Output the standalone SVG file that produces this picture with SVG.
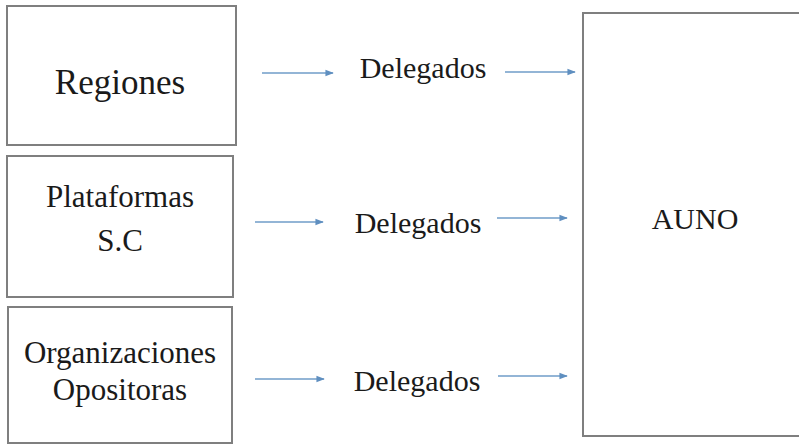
<svg xmlns="http://www.w3.org/2000/svg" width="799" height="446" viewBox="0 0 799 446">
<defs>
<style>
.box{fill:#fff;stroke:#7f7f7f;stroke-width:2}
.t{font-family:'Liberation Serif',serif;fill:#1a1a1a;text-anchor:middle}
.a{stroke:#6f9cc8;stroke-width:1.4;fill:none;marker-end:url(#ah)}
</style>
<marker id="ah" viewBox="0 0 10 10" refX="9" refY="5" markerWidth="6" markerHeight="6" markerUnits="strokeWidth" orient="auto">
<path d="M0,1 L10,5 L0,9 z" fill="#5f8fc0"/>
</marker>
</defs>
<rect width="799" height="446" fill="#fff"/>
<g id="regiones">
<rect class="box" x="7" y="6" width="229" height="139"/>
<text class="t" x="120" y="94" font-size="35">Regiones</text>
</g>
<g id="plataformas">
<rect class="box" x="7" y="156" width="226" height="141"/>
<text class="t" x="120" y="207" font-size="31">Plataformas</text>
<text class="t" x="120" y="251" font-size="31">S.C</text>
</g>
<g id="organizaciones">
<rect class="box" x="8" y="307" width="224" height="136"/>
<text class="t" x="120" y="363" font-size="31">Organizaciones</text>
<text class="t" x="120" y="400" font-size="31">Opositoras</text>
</g>
<g id="auno">
<rect class="box" x="583" y="13" width="220" height="423"/>
<text class="t" x="695" y="229" font-size="30">AUNO</text>
</g>
<g id="delegados1"><text class="t" x="423" y="78" font-size="30">Delegados</text></g>
<g id="delegados2"><text class="t" x="418" y="233" font-size="30">Delegados</text></g>
<g id="delegados3"><text class="t" x="417" y="391" font-size="30">Delegados</text></g>
<g id="connectors">
<line class="a" x1="262" y1="73" x2="333" y2="73"/>
<line class="a" x1="505" y1="72" x2="575" y2="72"/>
<line class="a" x1="255" y1="222" x2="323" y2="222"/>
<line class="a" x1="497" y1="218" x2="567" y2="218"/>
<line class="a" x1="255" y1="379" x2="324" y2="379"/>
<line class="a" x1="498" y1="376" x2="567" y2="376"/>
</g>
</svg>
